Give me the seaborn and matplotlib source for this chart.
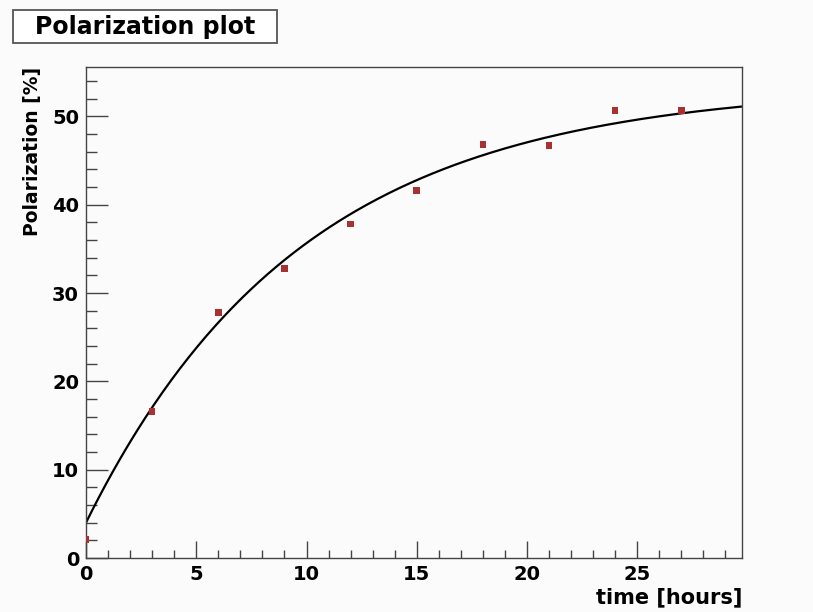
import numpy as np
import pandas as pd
import matplotlib
matplotlib.use("Agg")
import matplotlib.pyplot as plt
from matplotlib.patches import Rectangle
from matplotlib.ticker import MultipleLocator
import seaborn as sns

# Measured polarization vs. time
time_hours = [0, 3, 6, 9, 12, 15, 18, 21, 24, 27]
polarization = [2.1, 16.6, 27.8, 32.8, 37.8, 41.6, 46.8, 46.7, 50.7, 50.7]

# Exponential build-up fit: P(t) = P_inf - (P_inf - P_0) * exp(-t / tau)
fit_p_inf = 53.5
fit_p0 = 4.0
fit_tau = 9.8

x_range = (0, 29.75)
y_range = (0, 55.6)

sns.set_style("ticks")
plt.rcParams["font.family"] = ["DejaVu Sans"]
plt.rcParams["font.weight"] = "bold"
plt.rcParams["text.color"] = "black"
plt.rcParams["xtick.labelcolor"] = "black"
plt.rcParams["ytick.labelcolor"] = "black"

bg = "#fbfbfb"
fig = plt.figure(figsize=(8.13, 6.12), dpi=100, facecolor=bg)
ax = fig.add_axes([86 / 813, 1 - 558 / 612, (742 - 86) / 813, (558 - 67) / 612])
ax.set_facecolor(bg)

df = pd.DataFrame({"time": time_hours, "pol": polarization})
t_fit = np.linspace(x_range[0], x_range[1], 300)
fit_df = pd.DataFrame({
    "time": t_fit,
    "pol": fit_p_inf - (fit_p_inf - fit_p0) * np.exp(-t_fit / fit_tau),
})

sns.lineplot(data=fit_df, x="time", y="pol", ax=ax, color="black", linewidth=1.6)
sns.scatterplot(data=df, x="time", y="pol", ax=ax, marker="s", s=22,
                color="#a83232", edgecolor="none", zorder=3)

ax.set_xlim(*x_range)
ax.set_ylim(*y_range)

ax.xaxis.set_major_locator(MultipleLocator(5))
ax.xaxis.set_minor_locator(MultipleLocator(1))
ax.yaxis.set_major_locator(MultipleLocator(10))
ax.yaxis.set_minor_locator(MultipleLocator(2))

ax.tick_params(axis="x", which="major", direction="in", length=12, width=1,
               color="#444444", pad=5, labelsize=14, labelcolor="black")
ax.tick_params(axis="x", which="minor", direction="in", length=6, width=1,
               color="#444444")
ax.tick_params(axis="y", which="major", direction="in", length=16, width=1,
               color="#444444", pad=5, labelsize=14, labelcolor="black")
ax.tick_params(axis="y", which="minor", direction="in", length=8, width=1,
               color="#444444")
for lbl in ax.get_xticklabels() + ax.get_yticklabels():
    lbl.set_fontweight("bold")

for s in ax.spines.values():
    s.set_color("#444444")
    s.set_linewidth(1.0)

ax.set_xlabel("")
ax.set_ylabel("")
fig.text(742 / 813, 1 - 597 / 612, "time [hours]", ha="right", va="center",
         fontsize=15, fontweight="bold", color="black")
fig.text(33 / 813, 1 - 151 / 612, "Polarization [%]", ha="center", va="center",
         rotation=90, fontsize=13.5, fontweight="bold", color="black")

# Title box
fig.patches.append(Rectangle((13 / 813, 1 - 43 / 612), (277 - 13) / 813, 33 / 612,
                             transform=fig.transFigure, facecolor="white",
                             edgecolor="#555555", linewidth=1.3))
fig.text(145 / 813, 1 - 27 / 612, "Polarization plot", ha="center", va="center",
         fontsize=17, fontweight="bold", color="black")

fig.savefig("out.png", dpi=100, facecolor=bg)
